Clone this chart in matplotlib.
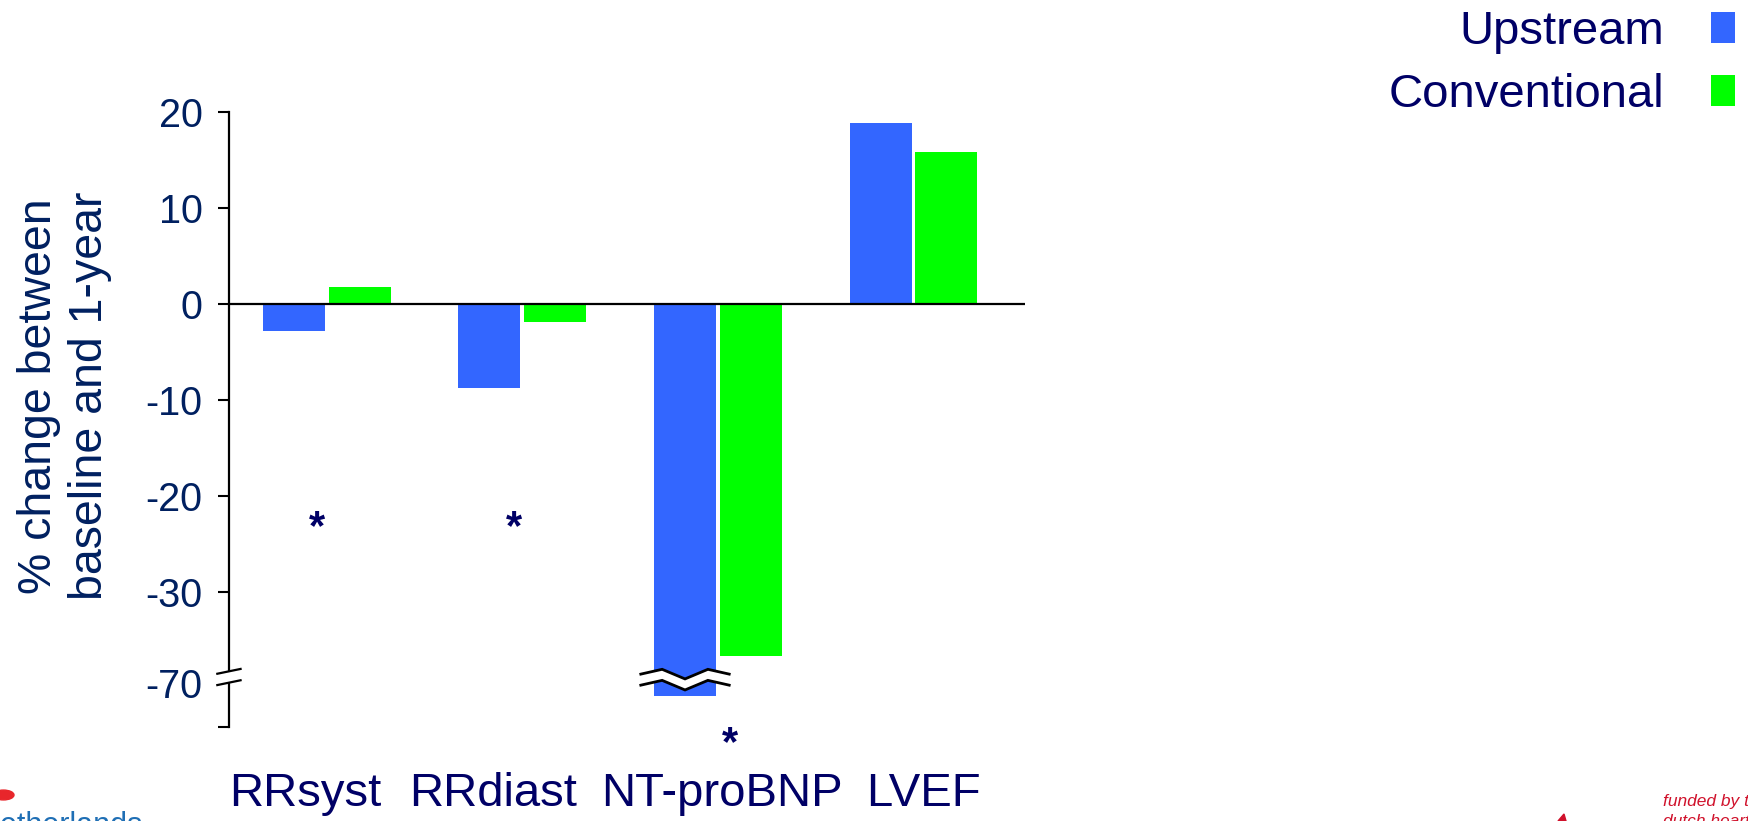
import numpy as np
import matplotlib
matplotlib.use('Agg')
import matplotlib.pyplot as plt
from matplotlib.patches import Circle, Polygon

# data
categories = ['RRsyst', 'RRdiast', 'NT-proBNP', 'LVEF']
upstream = [-2.8, -8.8, -76.0, 18.8]
conventional = [1.8, -1.9, -58.0, 15.8]
series_names = ['Upstream', 'Conventional']
y_ticks = [20, 10, 0, -10, -20, -30, -70]
y_tick_labels = ['20', '10', '0', '-10', '-20', '-30', '-70']
# category labels are not centred under the groups on the slide
label_shift = [-0.11, -0.15, 0.02, 0.05]
# significance stars (group position, y value)
sig_x = [-0.05, 0.96, 2.06]
sig_y = [-22.5, -22.5, -93.4]

BLUE = '#3366ff'
GREEN = '#00ff00'
NAVY = '#000066'
TICK_BLUE = '#002060'

# broken axis: everything below -30 is squeezed
BREAK_AT = -30
SQUEEZE = 0.2365


def fwd(v):
    v = np.asarray(v, dtype=float)
    return np.where(v >= BREAK_AT, v, BREAK_AT + (v - BREAK_AT) * SQUEEZE)


def inv(d):
    d = np.asarray(d, dtype=float)
    return np.where(d >= BREAK_AT, d, BREAK_AT + (d - BREAK_AT) / SQUEEZE)


plt.rcParams['font.family'] = ['Liberation Sans', 'DejaVu Sans']

fig = plt.figure(figsize=(17.49, 8.21), dpi=100)
ax = fig.add_axes([0.1309, 0.1141, 0.4551, 0.7498])
ax.set_yscale('function', functions=(fwd, inv))

x = np.arange(len(categories))
offset = 0.168
width = 0.317
ax.bar(x - offset, upstream, width, color=BLUE, label=series_names[0], zorder=2)
ax.bar(x + offset, conventional, width, color=GREEN, label=series_names[1], zorder=2)

y_bottom = float(inv(-44.1))
ax.set_ylim(y_bottom, 20)
ax.set_xlim(-0.5, 3.57)

ax.axhline(0, color='black', lw=1.6, zorder=3)

for side in ['top', 'right', 'bottom']:
    ax.spines[side].set_visible(False)
ax.spines['left'].set_linewidth(1.6)

ax.set_yticks(y_ticks + [y_bottom])
ax.set_yticklabels(y_tick_labels + [''])
ax.tick_params(axis='y', length=8, width=1.5, pad=11, labelsize=28.5,
               labelcolor=TICK_BLUE)
ax.yaxis.get_major_ticks()[y_ticks.index(-70)].tick1line.set_visible(False)

ax.set_xticks(x + np.array(label_shift))
ax.set_xticklabels(categories)
ax.tick_params(axis='x', length=0, pad=32, labelsize=34, labelcolor=NAVY)

ax.set_ylabel('% change between\nbaseline and 1-year', fontsize=33.5,
              color=TICK_BLUE)
ax.yaxis.set_label_coords(-0.147, 0.538)

# break marks on the y axis
d70 = float(fwd(-70))
ytr = ax.get_yaxis_transform()
s_hi, s_lo = d70 + 1.19, d70 + 0.01
gap = Polygon([[-0.0146, inv(s_hi - 0.25)], [0.0146, inv(s_hi + 0.25)],
               [0.0146, inv(s_lo + 0.25)], [-0.0146, inv(s_lo - 0.25)]],
              closed=True, transform=ytr, facecolor='white', edgecolor='none',
              clip_on=False, zorder=4)
ax.add_patch(gap)
for s in [s_hi, s_lo]:
    ax.plot([-0.0146, 0.0146], inv([s - 0.25, s + 0.25]), color='black',
            lw=1.6, transform=ytr, clip_on=False, zorder=5)

# wavy break across the clipped NT-proBNP bar
i_nt = categories.index('NT-proBNP')
xb = x[i_nt] - offset
wx = xb + np.array([-0.226, -0.117, 0.0, 0.117, 0.226])
wave = np.array([0.0, 0.5, -0.5, 0.5, 0.0])
w_hi = d70 + 0.9 + wave
w_lo = d70 - 0.25 + wave
ax.fill_between(wx, inv(w_lo), inv(w_hi), color='white', zorder=4, lw=0)
ax.plot(wx, inv(w_hi), color='black', lw=2.0, zorder=5, solid_joinstyle='miter')
ax.plot(wx, inv(w_lo), color='black', lw=2.0, zorder=5, solid_joinstyle='miter')

# significance stars
for sx, sy in zip(sig_x, sig_y):
    ax.annotate('*', xy=(sx, sy), xytext=(0, -0.45 * 30), textcoords='offset points',
                ha='center', va='baseline', fontsize=30, fontweight='bold',
                color=NAVY, annotation_clip=False)

leg = ax.legend(loc='upper right', bbox_to_anchor=(1735 / 1749, 1 - 10 / 821),
                bbox_transform=fig.transFigure, frameon=False, markerfirst=False,
                fontsize=34, handlelength=0.5, handleheight=0.64,
                handletextpad=1.0, labelspacing=0.4, borderpad=0,
                borderaxespad=0.0)
for t in leg.get_texts():
    t.set_color(NAVY)

# slide footer fragments
fig.text(143 / 1749, 1 - 834 / 821, 'Netherlands', ha='right', va='baseline',
         fontsize=22, color='#1f6fb5')
fig.add_artist(Circle((0.002, 1 - 795 / 821), 0.006, transform=fig.transFigure,
                      color='#e8262b', clip_on=False))
fig.text(1663 / 1749, 1 - 806 / 821, 'funded by the', ha='left', va='baseline',
         fontsize=12.5, style='italic', color='#d0112b')
fig.text(1663 / 1749, 1 - 826 / 821, 'dutch heart foundation', ha='left',
         va='baseline', fontsize=12.5, style='italic', color='#d0112b')
fig.add_artist(Polygon([[1558 / 1749, 0.0], [1566 / 1749, 0.0],
                        [1564 / 1749, 1 - 814 / 821]], closed=True,
                       transform=fig.transFigure, color='#d0112b'))

fig.savefig('out.png', dpi=100)
